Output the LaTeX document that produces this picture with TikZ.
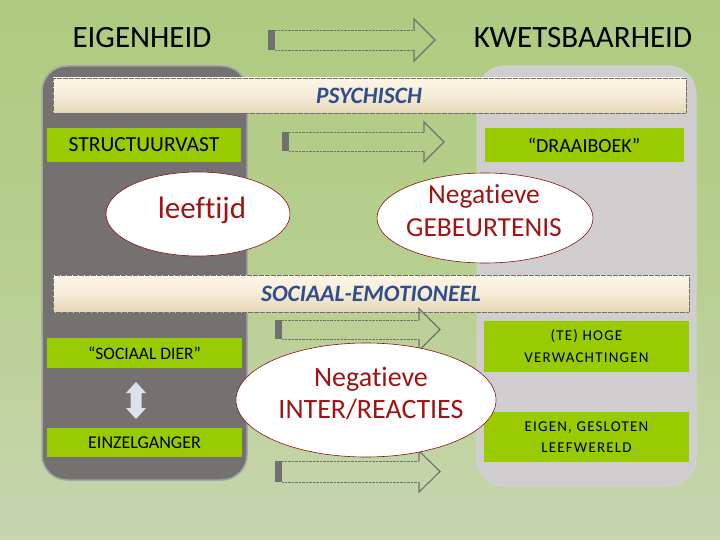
\documentclass[tikz,border=0pt]{standalone}
\usepackage{fontspec}
\setmainfont{Carlito}[Ligatures=CommonOff]
\usetikzlibrary{shapes.geometric}
\definecolor{bgtop}{RGB}{174,203,128}
\definecolor{bgmid}{RGB}{183,207,143}
\definecolor{bgbot}{RGB}{199,213,176}
\definecolor{panelL}{RGB}{118,113,113}
\definecolor{panelLb}{RGB}{165,165,165}
\definecolor{panelR}{RGB}{207,205,205}
\definecolor{lime}{RGB}{153,204,0}
\definecolor{bandtop}{RGB}{253,245,230}
\definecolor{bandbot}{RGB}{228,214,182}
\definecolor{bandblue}{RGB}{47,78,140}
\definecolor{dred}{RGB}{160,20,20}
\definecolor{arrgray}{RGB}{112,112,112}
\definecolor{dblarr}{RGB}{221,226,234}
\newcommand\hollowarrow[6]{%
  \fill[arrgray] (#1,#4-#5) rectangle (#1+7,#4+#5);
  \draw[arrgray, line width=0.8pt, dash pattern=on 0.7pt off 0.7pt] (#1+7,#4-#5) -- (#2,#4-#5) (#1+7,#4+#5) -- (#2,#4+#5);
  \draw[arrgray, line width=1.1pt, line join=miter] (#2,#4-#5) -- (#2,#4-#6) -- (#3,#4) -- (#2,#4+#6) -- (#2,#4+#5);
}
\tikzset{
  headtxt/.style={font=\fontsize{31}{31}\selectfont, text=black, inner sep=0pt},
  greenbox/.style={fill=lime, draw=none, inner sep=0pt, align=center, text=black},
  bandbox/.style={top color=bandtop, bottom color=bandbot, middle color=bandtop!70!bandbot, draw=arrgray, dash pattern=on 0.5pt off 0.7pt, line width=0.6pt},
  bandtxt/.style={font=\fontsize{23.5}{23.5}\selectfont\bfseries\itshape, text=bandblue, inner sep=0pt},
  bubble/.style={ellipse, draw=dred!85!black, fill=white, inner sep=0pt, line width=0.6pt},
  bubbletxt/.style={text=dred, inner sep=0pt, align=center},
}
\begin{document}
\begin{tikzpicture}[x=1pt, y=-1pt]
\useasboundingbox (0,0) rectangle (720,540);
\fill[top color=bgtop, bottom color=bgbot, middle color=bgmid] (0,0) rectangle (720,540);

% panels
\fill[panelL, draw=panelLb, line width=1.5pt, rounded corners=25pt] (42,66) rectangle (247,480);
\fill[panelR, draw=panelR!90!white, line width=1pt, rounded corners=28pt] (477,66) rectangle (696,486);

% title row
\node[headtxt] (eigen) at (142,38) {EIGENHEID};
\node[headtxt] (kwets) at (583,38) {KWETSBAARHEID};
\hollowarrow{268}{414}{435}{40}{10}{21}

% PSYCHISCH band
\draw[bandbox] (53,78) rectangle (686,113);
\node[bandtxt] (psych) at (369,96) {PSYCHISCH};

% green boxes row 1
\node[greenbox, minimum width=194pt, minimum height=34pt, font=\fontsize{21.5}{21.5}\selectfont] (struct) at (144,145) {STRUCTUURVAST};
\node[greenbox, minimum width=199pt, minimum height=34pt, font=\fontsize{20}{20}\selectfont] (draai) at (584,145) {“DRAAIBOEK”};
\hollowarrow{282}{424}{444}{142}{9.5}{20}

% ellipses row 1
\node[bubble, minimum width=184pt, minimum height=84pt] (leeft) at (198,214) {};
\node[bubbletxt, font=\fontsize{31}{31}\selectfont] (leefttxt) at (202,210) {leeftijd};
\node[bubble, minimum width=216pt, minimum height=90pt] (gebeur) at (485,218) {};
\node[bubbletxt, font=\fontsize{27.5}{33}\selectfont] (gebeurtxt) at (484,211) {Negatieve\\GEBEURTENIS};

% SOCIAAL-EMOTIONEEL band
\draw[bandbox] (53,275) rectangle (689,312);
\node[bandtxt] (sociaal) at (371,294) {SOCIAAL-EMOTIONEEL};

% left boxes
\node[greenbox, minimum width=195pt, minimum height=30pt, font=\fontsize{17.5}{17.5}\selectfont] (dier) at (144.5,353) {“SOCIAAL DIER”};
\node[greenbox, minimum width=195pt, minimum height=29pt, font=\fontsize{18}{18}\selectfont] (einzel) at (144.5,442.5) {EINZELGANGER};
\fill[dblarr] (136,382) -- (146,393) -- (141.5,393) -- (141.5,408) -- (146,408) -- (136,419) -- (126,408) -- (130.5,408) -- (130.5,393) -- (126,393) -- cycle;

% right boxes
\node[greenbox, minimum width=205pt, minimum height=51pt, font=\addfontfeature{LetterSpace=8}\fontsize{15}{22}\selectfont] (hoge) at (586.5,346.5) {(TE) HOGE\\VERWACHTINGEN};
\node[greenbox, minimum width=205pt, minimum height=50pt, font=\addfontfeature{LetterSpace=8}\fontsize{15}{21}\selectfont] (eigen2) at (586.5,437) {EIGEN, GESLOTEN\\LEEFWERELD};

% arrows row 2
\hollowarrow{275}{419}{440}{329.5}{9.5}{21}
\hollowarrow{275}{419}{440}{471.5}{10.5}{20.5}

% central ellipse
\node[bubble, minimum width=260pt, minimum height=114pt] (inter) at (366,400) {};
\node[bubbletxt, font=\fontsize{28}{32}\selectfont] (intertxt) at (371,393) {Negatieve\\INTER/REACTIES};
\end{tikzpicture}
\end{document}
